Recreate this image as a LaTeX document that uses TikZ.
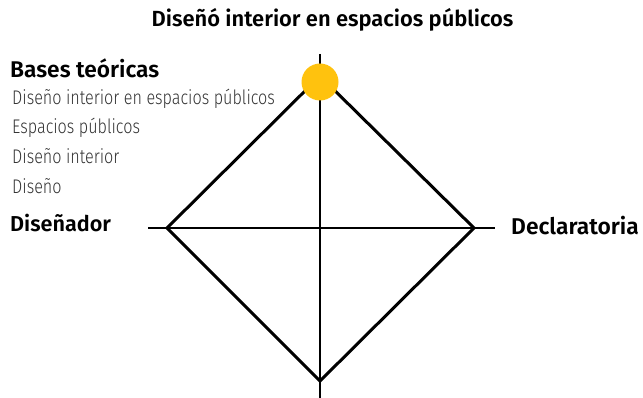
\documentclass[tikz,border=0pt]{standalone}
\usepackage{fontspec}
\setmainfont{Fira Sans}
\newfontfamily\headfont{Fira Sans}[UprightFont=* SemiBold]
\newfontfamily\listfont{Fira Sans}[UprightFont=* Light, FakeStretch=0.82]
\definecolor{sun}{HTML}{FFC20E}
\definecolor{ink}{HTML}{333333}
\begin{document}
\begin{tikzpicture}[x=1pt,y=-1pt,
  head/.style={font=\headfont\fontsize{21.2}{23}\selectfont, inner sep=0pt},
  item/.style={font=\listfont\fontsize{19.7}{21}\selectfont, text=ink, inner sep=0pt, anchor=base west},
  axis/.style={line width=1.8pt, black},
  edge/.style={line width=3pt, black, line join=miter}]
\useasboundingbox (0,0) rectangle (643,398);
\coordinate (T) at (320,76);
\coordinate (L) at (167,228);
\coordinate (R) at (474,228);
\coordinate (B) at (320,381);
\coordinate (vtop) at (320,54);
\coordinate (vbot) at (320,398);
\coordinate (hl) at (148,228);
\coordinate (hr) at (495,228);
\draw[axis] (vtop) -- (vbot);
\draw[axis] (hl) -- (hr);
\draw[edge] (T) -- (L) -- (B) -- (R) -- cycle;
\fill[sun] (320,82) circle (18.5);
\node[head, anchor=base, font=\headfont\fontsize{21.9}{23}\selectfont] (title) at (332.5,27) {Diseñó interior en espacios públicos};
\node[head, anchor=base west, font=\headfont\fontsize{22.7}{24}\selectfont] (bases) at (10,78) {Bases teóricas};
\node[item] (i1) at (12,105) {Diseño interior en espacios públicos};
\node[item] (i2) at (12,134) {Espacios públicos};
\node[item] (i3) at (12,164) {Diseño interior};
\node[item] (i4) at (12,194) {Diseño};
\node[head, anchor=base west, font=\headfont\fontsize{21.6}{23}\selectfont] (dis) at (10,232) {Diseñador};
\node[head, anchor=base west, font=\headfont\fontsize{22.8}{24}\selectfont] (dec) at (511,235) {Declaratoria};
\end{tikzpicture}
\end{document}
